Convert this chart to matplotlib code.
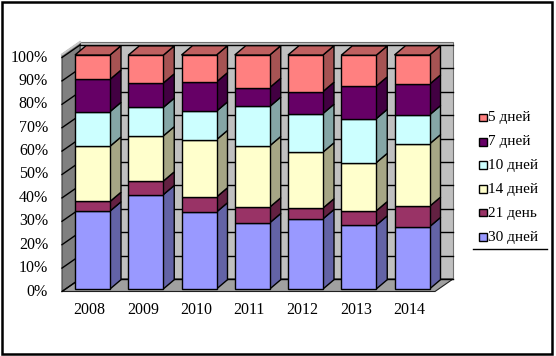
import matplotlib
matplotlib.use("Agg")
import matplotlib.pyplot as plt
from matplotlib.patches import Polygon, Rectangle
import numpy as np

years = ["2008", "2009", "2010", "2011", "2012", "2013", "2014"]
series_names = ["30 дней", "21 день", "14 дней", "10 дней", "7 дней", "5 дней"]
d30 = [33.3, 40.3, 32.9, 28.3, 30.0, 27.3, 26.6]
d21 = [4.1, 5.8, 6.4, 6.7, 4.6, 6.1, 8.7]
d14 = [23.6, 19.3, 24.5, 26.2, 23.9, 20.6, 26.7]
d10 = [14.8, 12.2, 12.2, 16.8, 16.5, 18.8, 12.4]
d7 = [13.8, 10.4, 12.5, 8.1, 9.4, 13.9, 13.1]
d5 = [10.4, 11.9, 11.5, 13.9, 15.6, 13.2, 12.5]
series_values = [d30, d21, d14, d10, d7, d5]
colors = ["#9999FF", "#993366", "#FFFFCC", "#CCFFFF", "#660066", "#FF8080"]
yticks = [0, 10, 20, 30, 40, 50, 60, 70, 80, 90, 100]

plt.rcParams["font.family"] = ["Liberation Serif", "DejaVu Serif"]

W, H = 556, 356
fig = plt.figure(figsize=(W / 100, H / 100), dpi=100)
fig.patch.set_facecolor("white")

# pixel helpers (layout only)
X0, DXC = 92.5, 53.25
Y0, DYV = 289.0, 2.34
def xp(px):
    return (px - X0) / DXC
def vp(py):
    return (Y0 - py) / DYV

ax = fig.add_axes([0, 0, 1, 1])
ax.set_xlim(xp(0), xp(W))
ax.set_ylim(vp(H), vp(0))
ax.axis("off")

def shade(c, f):
    r, g, b = matplotlib.colors.to_rgb(c)
    return (r * f, g * f, b * f)

# walls geometry
xfl, xbl, xfr, xbr = xp(62), xp(80), xp(435), xp(453)
vf, vb = vp(291.5), vp(279)   # 0% level on front / back planes
top_ext = 1.3

# back wall
ax.add_patch(Polygon([(xbl, vb), (xbr, vb), (xbr, vb + 100 + top_ext), (xbl, vb + 100 + top_ext)],
                     closed=True, facecolor="#C0C0C0", edgecolor="#707070", lw=0.8, zorder=1))
# left wall
ax.add_patch(Polygon([(xfl, vf), (xbl, vb), (xbl, vb + 100 + top_ext), (xfl, vf + 100 + top_ext)],
                     closed=True, facecolor="#808080", edgecolor="#404040", lw=0.8, zorder=1))
# top rim of left wall
ax.plot([xfl, xbl], [vf + 100 + top_ext, vb + 100 + top_ext], color="#C8C8C8", lw=1.5, zorder=1.5)
# floor
ax.add_patch(Polygon([(xfl, vf), (xfr, vf), (xbr, vb), (xbl, vb)],
                     closed=True, facecolor="#A0A0A0", edgecolor="#202020", lw=0.8, zorder=1))

# gridlines
for t in yticks:
    ax.plot([xbl, xbr], [vb + t, vb + t], color="black", lw=1.0, zorder=2)
    ax.plot([xfl, xbl], [vf + t, vb + t], color="black", lw=1.0, zorder=2)

# bars
bw = 35 / DXC
ddx, ddy = 11 / DXC, 9.3 / DYV
x = np.arange(len(years))
bottoms = np.zeros(len(years))
for vals, c in zip(series_values, colors):
    vals = np.array(vals)
    for i in range(len(years)):
        b, t = bottoms[i], bottoms[i] + vals[i]
        xr = x[i] + bw / 2
        ax.add_patch(Polygon([(xr, b), (xr + ddx, b + ddy), (xr + ddx, t + ddy), (xr, t)],
                             closed=True, facecolor=shade(c, 0.65), edgecolor="black", lw=1.0,
                             zorder=3 + i))
    ax.bar(x, vals, width=bw, bottom=bottoms, color=c, edgecolor="black", linewidth=1.0,
           zorder=3.5)
    for i, p in enumerate(ax.patches[-len(years):]):
        p.set_zorder(3.5 + i)
    bottoms = bottoms + vals

# top faces
for i in range(len(years)):
    t = bottoms[i]
    xl, xr = x[i] - bw / 2, x[i] + bw / 2
    ax.add_patch(Polygon([(xl, t), (xr, t), (xr + ddx, t + ddy), (xl + ddx, t + ddy)],
                         closed=True, facecolor=shade(colors[-1], 0.75), edgecolor="black", lw=1.0,
                         zorder=3.6 + i))

# y tick labels
for t in yticks:
    ax.text(xp(48), vf + t, f"{t}%", ha="right", va="center", fontsize=11.5, zorder=20)

# x labels
for i, yr in enumerate(years):
    ax.text(x[i] - 3 / DXC, vp(310), yr, ha="center", va="center", fontsize=11.5, zorder=20)

# legend (top entry first)
leg_y = [118, 142, 165, 189, 213, 237]
for name, c, ly in zip(series_names[::-1], colors[::-1], leg_y):
    fig.patches.append(Rectangle((479 / W, 1 - (ly + 3.5) / H), 7.5 / W, 7.5 / H,
                                 transform=fig.transFigure, facecolor=c, edgecolor="black", lw=1.0))
    fig.text(488 / W, 1 - ly / H, name, ha="left", va="center", fontsize=11)
fig.add_artist(plt.Line2D([473 / W, 547 / W], [1 - 249 / H, 1 - 249 / H],
                          transform=fig.transFigure, color="black", lw=1.0))

# outer border
fig.patches.append(Rectangle((1.5 / W, 2.5 / H), (552 - 1.5) / W, (354 - 2.5) / H,
                             transform=fig.transFigure, facecolor="none", edgecolor="black", lw=1.8))

fig.savefig("out.png", dpi=100)
